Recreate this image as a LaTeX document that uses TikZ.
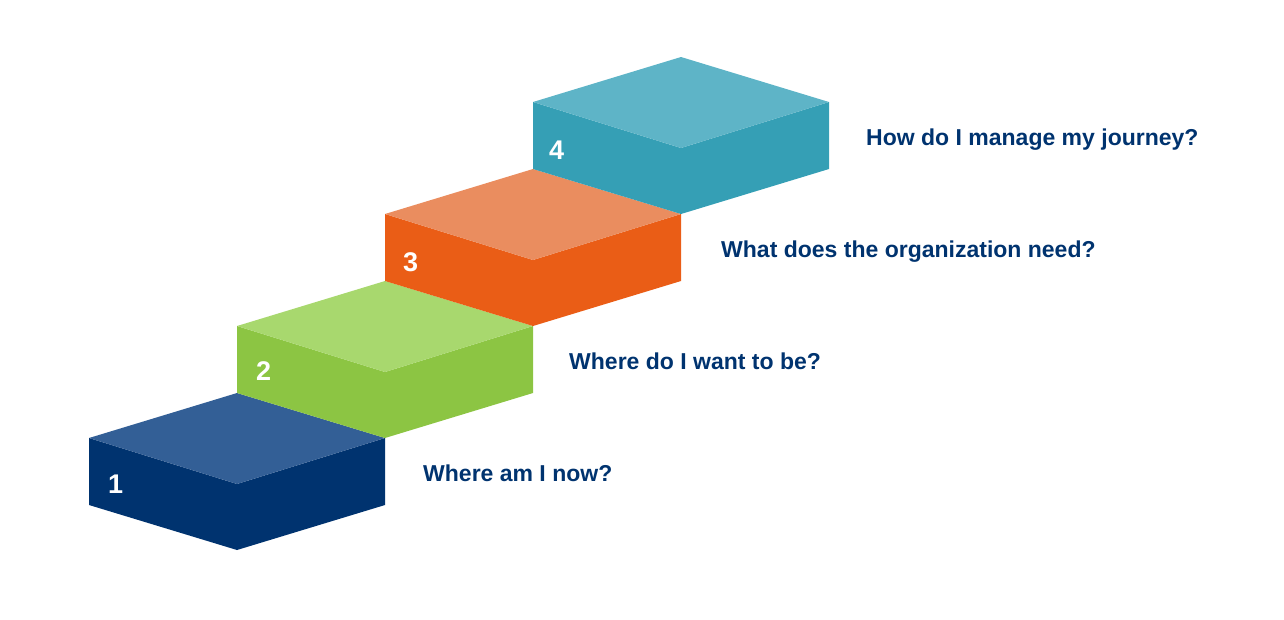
\documentclass[tikz,border=0pt]{standalone}
\usepackage{fontspec}
\setmainfont{Liberation Sans}
\usetikzlibrary{positioning}
\definecolor{navyside}{HTML}{00336F}
\definecolor{navytop}{HTML}{335F96}
\definecolor{greenside}{HTML}{8CC543}
\definecolor{greentop}{HTML}{A8D86E}
\definecolor{orangeside}{HTML}{EA5D16}
\definecolor{orangetop}{HTML}{EA8D5F}
\definecolor{tealside}{HTML}{359FB5}
\definecolor{tealtop}{HTML}{5EB4C7}
\definecolor{textnavy}{HTML}{00336F}

\begin{document}
\begin{tikzpicture}[x=1pt,y=-1pt,
  stepnum/.style={font=\fontsize{27}{30}\selectfont\bfseries,text=white,inner sep=0pt,anchor=base west},
  question/.style={font=\fontsize{23}{27}\selectfont\bfseries,text=textnavy,inner sep=0pt,anchor=base west}]
  \useasboundingbox (0,0) rectangle (1284,619);
  % one block per step: left corner, colours, number offset, question offset
  \foreach \n/\sx/\sy/\top/\side/\nx/\ny/\qx/\txt in {%
      1/89/438/navytop/navyside/19/55/334/{Where am I now?},
      2/237/326/greentop/greenside/19/54/332/{Where do I want to be?},
      3/385/214/orangetop/orangeside/18/57/336/{What does the organization need?},
      4/533/102/tealtop/tealside/16/57/333/{How do I manage my journey?}}{
    \begin{scope}[shift={(\sx,\sy)}]
      \coordinate (s\n) at (0,0);
      \fill[\side] (0,0) -- (0,67) -- (148,112) -- (296,67) -- (296,0) -- (148,46) -- cycle;
      \fill[\top] (0,0) -- (148,-45) -- (296,0) -- (148,46) -- cycle;
      \node[stepnum] (num\n) at (\nx,\ny) {\n};
      \node[question] (q\n) at (\qx,43) {\txt};
    \end{scope}
  }
\end{tikzpicture}
\end{document}
